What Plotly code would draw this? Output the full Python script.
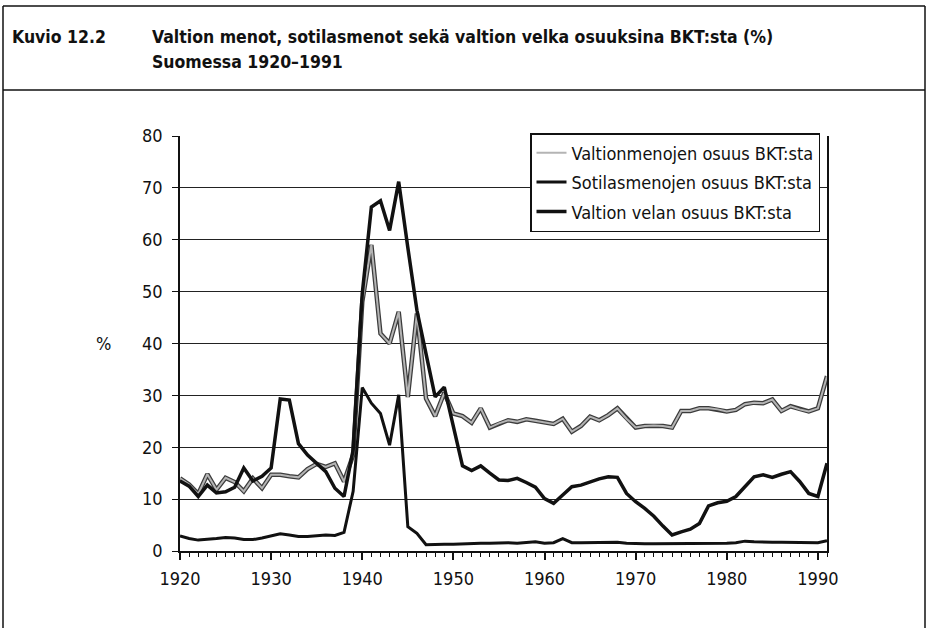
import plotly.graph_objects as go

years = list(range(1920, 1992))

menot = [14.0, 12.8, 11.0, 14.8, 11.8, 14.1, 13.3, 11.5, 14.0, 12.1,
         14.7, 14.7, 14.4, 14.2, 15.8, 16.8, 16.2, 16.9, 13.4, 18.5,
         48.0, 59.0, 41.9, 40.0, 46.1, 29.7, 45.8, 29.4, 26.0, 30.5,
         26.5, 26.0, 24.7, 27.5, 23.8, 24.6, 25.2, 24.9, 25.4, 25.1,
         24.7, 24.5, 25.5, 23.0, 24.1, 25.9, 25.2, 26.2, 27.5, 25.5,
         23.8, 24.1, 24.2, 24.1, 23.8, 27.0, 27.0, 27.5, 27.5, 27.3,
         26.9, 27.2, 28.3, 28.6, 28.5, 29.2, 27.0, 27.9, 27.3, 26.9,
         27.5, 33.7]

sotilas = [2.9, 2.4, 2.1, 2.2, 2.4, 2.6, 2.5, 2.2, 2.2, 2.5,
           2.9, 3.3, 3.1, 2.8, 2.8, 3.0, 3.1, 3.0, 3.6, 11.5,
           31.5, 28.5, 26.5, 20.4, 30.1, 4.7, 3.4, 1.2, 1.3, 1.3,
           1.3, 1.4, 1.4, 1.5, 1.5, 1.6, 1.6, 1.5, 1.7, 1.8,
           1.5, 1.6, 2.4, 1.6, 1.6, 1.6, 1.7, 1.7, 1.7, 1.5,
           1.4, 1.4, 1.4, 1.4, 1.4, 1.4, 1.5, 1.4, 1.4, 1.5,
           1.5, 1.6, 1.9, 1.8, 1.7, 1.7, 1.7, 1.7, 1.6, 1.6,
           1.6, 2.0]

velka = [13.5, 12.5, 10.5, 12.7, 11.2, 11.4, 12.3, 16.0, 13.5, 14.4,
         16.0, 29.3, 29.1, 20.7, 18.5, 17.0, 15.3, 12.1, 10.5, 19.5,
         49.6, 66.3, 67.5, 61.8, 71.2, 58.5, 46.4, 38.0, 29.7, 31.6,
         24.0, 16.4, 15.5, 16.4, 15.0, 13.7, 13.6, 14.0, 13.2, 12.3,
         10.1, 9.2, 10.8, 12.4, 12.7, 13.3, 13.9, 14.3, 14.2, 11.1,
         9.5, 8.2, 6.7, 4.8, 3.1, 3.7, 4.2, 5.3, 8.7, 9.3,
         9.6, 10.5, 12.5, 14.3, 14.7, 14.2, 14.8, 15.3, 13.4, 11.1,
         10.5, 16.9]

names = ["Valtionmenojen osuus BKT:sta",
         "Sotilasmenojen osuus BKT:sta",
         "Valtion velan osuus BKT:sta"]

FONT = "DejaVu Sans Condensed, Liberation Sans Narrow, sans-serif"

fig = go.Figure()
# gray series: dark outline + light core
fig.add_trace(go.Scatter(x=years, y=menot, mode="lines", showlegend=False,
                         line=dict(color="#3c3c3c", width=4.5), hoverinfo="skip"))
fig.add_trace(go.Scatter(x=years, y=menot, mode="lines", name=names[0],
                         legendgroup="a",
                         line=dict(color="#b4b4b4", width=2)))
fig.add_trace(go.Scatter(x=years, y=sotilas, mode="lines", name=names[1],
                         legendgroup="b",
                         line=dict(color="#111111", width=3)))
fig.add_trace(go.Scatter(x=years, y=velka, mode="lines", name=names[2],
                         legendgroup="c",
                         line=dict(color="#111111", width=3.5)))

W, H = 929, 628
L, R, T, B = 180, 102, 136, 77
pw, ph = W - L - R, H - T - B

def px(x):
    return (x - L) / pw

def py(y):
    return (H - B - y) / ph

fig.update_layout(
    width=W, height=H, autosize=False,
    margin=dict(l=L, r=R, t=T, b=B, pad=0),
    paper_bgcolor="white", plot_bgcolor="white",
    font=dict(family=FONT, size=18, color="#111111"),
    showlegend=True,
    legend=dict(x=px(530), y=py(133), xanchor="left", yanchor="top",
                bgcolor="white", bordercolor="#111111", borderwidth=1.5,
                font=dict(family=FONT, size=18, color="#111111"),
                tracegroupgap=3, itemwidth=30),
    xaxis=dict(range=[1920, 1991], tick0=1920, dtick=10,
               ticks="outside", ticklen=7, tickwidth=1.5, tickcolor="#111111",
               minor=dict(dtick=1, ticks="outside", ticklen=4, tickwidth=1,
                          tickcolor="#111111"),
               showgrid=False, zeroline=False,
               showline=True, linecolor="#111111", linewidth=1.5,
               ticklabelstandoff=4,
               tickfont=dict(family=FONT, size=18, color="#111111")),
    yaxis=dict(range=[0, 80], tick0=0, dtick=10,
               ticks="outside", ticklen=6, tickwidth=1.2, tickcolor="#111111",
               showgrid=True, gridcolor="#222222", gridwidth=1,
               zeroline=False,
               showline=True, linecolor="#111111", linewidth=1.5, mirror=True,
               ticklabelstandoff=6,
               tickfont=dict(family=FONT, size=18, color="#111111")),
)

fig.add_annotation(x=px(103), y=0.5, xref="paper", yref="paper",
                   text="%", showarrow=False, xanchor="center", yanchor="middle",
                   font=dict(family=FONT, size=18, color="#111111"))

TF = dict(family=FONT, size=17.5, color="#111111")
fig.add_annotation(x=px(10), y=py(37), xref="paper", yref="paper",
                   text="<b>Kuvio 12.2</b>", showarrow=False,
                   xanchor="left", yanchor="middle", font=TF)
fig.add_annotation(x=px(150), y=py(37), xref="paper", yref="paper",
                   text="<b>Valtion menot, sotilasmenot sekä valtion velka osuuksina BKT:sta (%)</b>",
                   showarrow=False, xanchor="left", yanchor="middle", font=TF)
fig.add_annotation(x=px(150), y=py(62), xref="paper", yref="paper",
                   text="<b>Suomessa 1920–1991</b>",
                   showarrow=False, xanchor="left", yanchor="middle", font=TF)

frame = dict(color="#111111", width=1.5)
# outer frame (top, left, right) and title separator
fig.add_shape(type="line", xref="paper", yref="paper",
              x0=px(3), x1=px(925), y0=py(6), y1=py(6), line=frame)
fig.add_shape(type="line", xref="paper", yref="paper",
              x0=px(3), x1=px(3), y0=py(6), y1=py(640), line=frame)
fig.add_shape(type="line", xref="paper", yref="paper",
              x0=px(925), x1=px(925), y0=py(6), y1=py(640), line=frame)
fig.add_shape(type="line", xref="paper", yref="paper",
              x0=px(3), x1=px(925), y0=py(90), y1=py(90), line=frame)

fig.write_html("out.html",
               config={"displayModeBar": False},
               post_script="document.body.style.margin='0';document.body.style.overflow='hidden';")
